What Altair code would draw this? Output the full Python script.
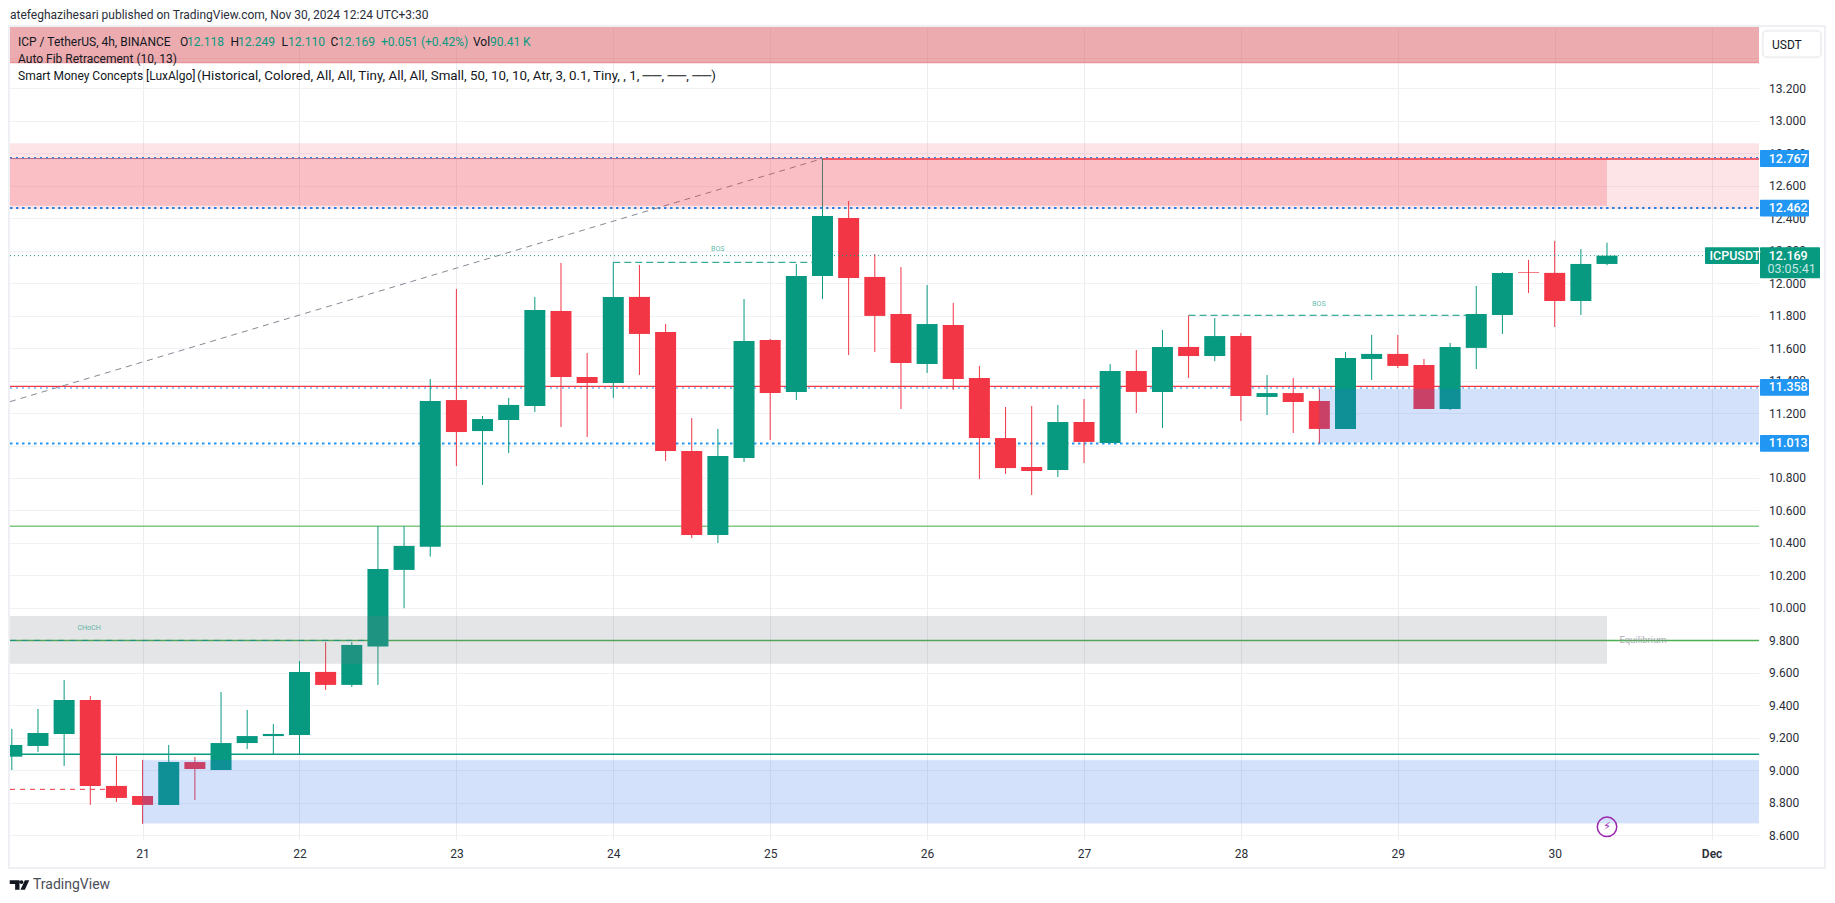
import altair as alt
import pandas as pd

# candles: time in days of Nov 2024 (day + index / 6), prices in USDT
bar_index = list(range(-5, 57))
opens = [9.084, 9.150, 9.224, 9.433, 8.904, 8.842, 8.787, 9.051, 9.002, 9.168, 9.211, 9.218, 9.606, 9.526, 9.762, 10.234,
         10.377, 11.280, 11.089, 11.157, 11.243, 11.828, 11.422, 11.385, 11.915, 11.699, 10.966, 10.449, 10.923, 11.650,
         11.330, 12.044, 12.401, 12.038, 11.810, 11.502, 11.742, 11.416, 11.046, 10.868, 10.849, 11.145, 11.016, 11.459,
         11.330, 11.607, 11.551, 11.674, 11.299, 11.323, 11.274, 11.102, 11.533, 11.564, 11.496, 11.225, 11.601, 11.804,
         12.067, 12.063, 11.890, 12.118]
highs = [9.255, 9.378, 9.556, 9.458, 9.088, 9.064, 9.156, 9.082, 9.482, 9.372, 9.285, 9.673, 9.790, 9.790, 10.503, 10.503,
         11.410, 11.964, 11.182, 11.293, 11.915, 12.124, 11.570, 12.128, 12.112, 11.748, 11.169, 11.102, 11.902, 11.656,
         12.118, 12.767, 12.506, 12.179, 12.099, 11.988, 11.878, 11.490, 11.237, 11.243, 11.250, 11.286, 11.502, 11.588,
         11.711, 11.802, 11.785, 11.693, 11.434, 11.416, 11.348, 11.576, 11.681, 11.681, 11.533, 11.632, 11.983, 12.069,
         12.143, 12.260, 12.210, 12.249]
lows = [9.002, 9.113, 9.027, 8.787, 8.805, 8.670, 8.787, 8.817, 9.002, 9.131, 9.099, 9.099, 9.495, 9.513, 9.526, 9.998,
        10.316, 10.874, 10.757, 10.954, 11.206, 11.114, 11.052, 11.293, 11.434, 10.905, 10.430, 10.400, 10.899, 11.034,
        11.280, 11.902, 11.557, 11.576, 11.225, 11.447, 11.342, 10.794, 10.825, 10.695, 10.806, 10.892, 11.016, 11.200,
        11.108, 11.416, 11.520, 11.151, 11.188, 11.077, 11.013, 11.102, 11.404, 11.478, 11.225, 11.219, 11.471, 11.687,
        11.939, 11.730, 11.804, 12.110]
closes = [9.156, 9.230, 9.433, 8.904, 8.830, 8.787, 9.051, 9.008, 9.168, 9.211, 9.224, 9.606, 9.526, 9.772, 10.240, 10.382,
          11.274, 11.083, 11.163, 11.250, 11.835, 11.422, 11.385, 11.915, 11.687, 10.966, 10.449, 10.935, 11.644, 11.323,
          12.044, 12.413, 12.032, 11.798, 11.508, 11.748, 11.410, 11.046, 10.861, 10.843, 11.145, 11.022, 11.459, 11.330,
          11.607, 11.551, 11.674, 11.305, 11.323, 11.268, 11.102, 11.539, 11.564, 11.490, 11.225, 11.607, 11.810, 12.063,
          12.063, 11.890, 12.118, 12.169]

x_domain = [20.155, 31.302]
y_domain = [8.571, 13.577]
price_ticks = [8.6, 8.8, 9.0, 9.2, 9.4, 9.6, 9.8, 10.0, 10.2, 10.4, 10.6, 10.8, 11.0, 11.2, 11.4, 11.6, 11.8, 12.0, 12.2, 12.4, 12.6, 12.8, 13.0, 13.2]
day_ticks = [21, 22, 23, 24, 25, 26, 27, 28, 29, 30, 31]

end_time = 21 + 56 / 6
ob_low_start = 21.0
ob_high_start = 21 + 45 / 6
peak_time = 21 + 26 / 6
bos1_start, bos1_end = 21 + 18 / 6, 21 + 26 / 6
bos2_start, bos2_end = 21 + 40 / 6, 21 + 51 / 6
choch_end = 21 + 9 / 6
swing_end = 21 - 1 / 6

xs = alt.Scale(domain=x_domain, nice=False, zero=False, padding=0)
ys = alt.Scale(domain=y_domain, nice=False, zero=False, padding=0)
FONT = "Roboto"
GREEN, RED, BLUE, TEAL = "#089981", "#f23645", "#2196f3", "#089981"
OB = "#2b6fee"

x_axis = alt.Axis(
    orient="bottom", values=day_ticks, grid=True, gridColor="#eceDf1", gridWidth=1, ticks=False, domain=False,
    labelFont=FONT, labelFontSize=12, labelColor="#2a2e39", labelPadding=8,
    labelExpr="datum.value == 31 ? 'Dec' : datum.value", labelOverlap=False, labelFlush=False,
    labelFontWeight=alt.expr("datum.value == 31 ? 600 : 400"))
y_axis = alt.Axis(
    orient="right", values=price_ticks, format=".3f", grid=True, gridColor="#f0f1f5", gridWidth=1,
    ticks=False, domain=False, labelFont=FONT, labelFontSize=12, labelColor="#2a2e39", labelPadding=9.5,
    labelAlign="left", labelOverlap=False, labelFlush=False)
X = alt.X("x:Q", scale=xs, axis=x_axis, title=None)
Y = alt.Y("y:Q", scale=ys, axis=y_axis, title=None)


def zone(x0, x1, y0, y1, color, opacity, **kw):
    d = pd.DataFrame({"x": [x0], "x2": [x1], "y": [y0], "y2": [y1]})
    return alt.Chart(d).mark_rect(color=color, opacity=opacity, clip=True, **kw).encode(x=X, x2="x2:Q", y=Y, y2="y2:Q")


def level(p, x0, x1, color, width=1.0, dash=None, opacity=1.0):
    d = pd.DataFrame({"x": [x0], "x2": [x1], "y": [p]})
    kw = {"strokeDash": dash} if dash else {}
    return alt.Chart(d).mark_rule(color=color, strokeWidth=width, opacity=opacity, clip=True, **kw).encode(x=X, x2="x2:Q", y=Y)


def ptext(text, px, py, color="#131722", size=12, **kw):
    d = pd.DataFrame({"t": [text]})
    opts = dict(align="left", baseline="middle", font=FONT, fontSize=size, color=color)
    opts.update(kw)
    return alt.Chart(d).mark_text(**opts).encode(x=alt.value(px), y=alt.value(py), text="t:N")


def dtext(text, t, p, color, size, opacity=1.0, font=FONT, **kw):
    d = pd.DataFrame({"t": [text], "x": [t], "y": [p]})
    return alt.Chart(d).mark_text(align="center", baseline="middle", font=font, fontSize=size, color=color,
                                  opacity=opacity, **kw).encode(x=X, y=Y, text="t:N")


def tag(p_top, p_bottom, x0, x1, color):
    d = pd.DataFrame({"y": [p_top], "y2": [p_bottom]})
    return alt.Chart(d).mark_rect(color=color, cornerRadius=1).encode(x=alt.value(x0), x2=alt.value(x1), y=Y, y2="y2:Q")


def vtext(text, p, px, color, size=12.5, **kw):
    d = pd.DataFrame({"t": [text], "y": [p]})
    return alt.Chart(d).mark_text(align="left", baseline="middle", font=FONT, fontSize=size, color=color, **kw).encode(
        x=alt.value(px), y=Y, text="t:N")


candles = pd.DataFrame({"i": bar_index, "o": opens, "h": highs, "l": lows, "c": closes})
candles["x"] = 21 + candles["i"] / 6
candles["up"] = candles["c"] >= candles["o"]
col = alt.Color("up:N", scale=alt.Scale(domain=[True, False], range=[GREEN, RED]), legend=None)

wicks = alt.Chart(candles).mark_rule(strokeWidth=1, clip=True).encode(
    x=X, y=alt.Y("h:Q", scale=ys, axis=y_axis, title=None), y2="l:Q", color=col)
bodies = alt.Chart(candles).mark_bar(size=21, orient="vertical", clip=True).encode(
    x=X, y=alt.Y("o:Q", scale=ys, axis=y_axis, title=None), y2="c:Q", color=col)

L, R = x_domain

trend = alt.Chart(pd.DataFrame({"x": [L, peak_time], "y": [11.27, 12.767]})).mark_line(
    color="#868993", strokeWidth=1, strokeDash=[6, 5], clip=True).encode(x=X, y=Y)

frame = alt.Chart(pd.DataFrame({"a": [0]})).mark_rect(fill="transparent", stroke="#eff0f3", strokeWidth=2).encode(
    x=alt.value(-1), x2=alt.value(1815), y=alt.value(-1), y2=alt.value(841))
usdt_box = alt.Chart(pd.DataFrame({"a": [0]})).mark_rect(fill="white", stroke="#eff0f3", strokeWidth=2, cornerRadius=4).encode(
    x=alt.value(1752.7), x2=alt.value(1811), y=alt.value(3.7), y2=alt.value(30.3))

bolt = alt.Chart(pd.DataFrame({"x": [end_time], "y": [8.652]})).mark_point(
    shape="circle", size=380, filled=False, color="#9c27b0", strokeWidth=1.5, opacity=1).encode(x=X, y=Y)
bolt_glyph = dtext("⚡", end_time, 8.652, "#9c27b0", 11, font="DejaVu Sans")

logo_path = "M-1 -0.5H0V0.5H-0.45V-0.1H-1Z M0.55 -0.5H1L0.55 0.5H0.1Z M0 -0.3A0.2 0.2 0 1 0 0.4 -0.3A0.2 0.2 0 1 0 0 -0.3Z"
logo = alt.Chart(pd.DataFrame({"a": [0]})).mark_point(shape=logo_path, size=380, filled=True, color="#131722", opacity=1).encode(
    x=alt.value(9.5), y=alt.value(858))

layers = [
    # top band
    zone(L, R, 13.358, 13.7, "#d9595f", 0.5),
    level(13.358, L, R, "#e8949a", 1.5),
    level(13.382, L, R, "#e8a0a5", 1),
    # lines under the candles
    level(10.503, L, R, "#81c784", 1.5),
    level(9.80, L, R, "#4caf50", 1.5),
    level(9.80, L, choch_end, TEAL, 1, [6, 6]),
    level(9.099, L, R, TEAL, 1.5),
    level(8.883, L, swing_end, RED, 1, [5, 5]),
    level(12.767, L, peak_time, "#9b7fa6", 1),
    level(12.764, peak_time, R, RED, 1.5),
    level(11.354, L, R, BLUE, 1, [2, 4]),
    level(11.364, L, R, RED, 1.2),
    level(11.013, L, R, BLUE, 2, [2.5, 3.5]),
    level(12.128, bos1_start, bos1_end, TEAL, 1, [7, 4]),
    level(11.802, bos2_start, bos2_end, TEAL, 1, [7, 4]),
    trend,
    wicks, bodies,
    # zones over the candles
    zone(L, R, 12.455, 12.861, RED, 0.13),
    zone(L, end_time, 12.477, 12.769, RED, 0.21),
    zone(L, end_time, 9.657, 9.950, "#787b86", 0.2),
    zone(ob_low_start, R, 8.674, 9.062, OB, 0.2, stroke=OB, strokeOpacity=0.25, strokeWidth=1),
    zone(ob_high_start, R, 11.018, 11.348, OB, 0.2, stroke=OB, strokeOpacity=0.25, strokeWidth=1),
    level(12.773, L, R, "#2f80e0", 1.2, [2, 4]),
    level(12.462, L, R, "#2f80e0", 2, [2.5, 3.5]),
    level(12.169, L, 21 + (1703 - 142.5) / 156.9, TEAL, 1, [1, 3]),
    dtext("BOS", 24.666, 12.21, TEAL, 7, 0.65),
    dtext("BOS", 28.497, 11.874, TEAL, 7, 0.65),
    dtext("CHoCH", 20.659, 9.877, TEAL, 7, 0.65),
    dtext("Equilibrium", 30.563, 9.80, "#9598a1", 9.5, 0.8),
    frame, usdt_box,
    ptext("USDT", 1762, 17.5, "#131722", 12),
    bolt, bolt_glyph,
    # price tags
    tag(12.819, 12.715, 1750, 1799, BLUE),
    tag(12.514, 12.410, 1750, 1799, BLUE),
    tag(11.410, 11.306, 1750, 1799, BLUE),
    tag(11.065, 10.961, 1750, 1799, BLUE),
    tag(12.221, 12.117, 1695, 1749, TEAL),
    tag(12.221, 12.030, 1750, 1810, TEAL),
    vtext("12.767", 12.767, 1758.7, "white", fontWeight=500),
    vtext("12.462", 12.462, 1758.7, "white", fontWeight=500),
    vtext("11.358", 11.358, 1758.7, "white", fontWeight=500),
    vtext("11.013", 11.013, 1758.7, "white", fontWeight=500),
    vtext("ICPUSDT", 12.169, 1699.5, "white", fontWeight=500),
    vtext("12.169", 12.169, 1758.7, "white", fontWeight=500),
    vtext("03:05:41", 12.084, 1757.5, "#c4e8e1"),
    # header, legend, footer
    ptext("atefeghazihesari published on TradingView.com, Nov 30, 2024 12:24 UTC+3:30", 0, -12, "#2a2e39", 12),
    ptext("ICP / TetherUS, 4h, BINANCE", 8, 14.7),
    ptext("O", 170, 14.7), ptext("12.118", 177, 14.7, GREEN),
    ptext("H", 220.6, 14.7), ptext("12.249", 228, 14.7, GREEN),
    ptext("L", 271.6, 14.7), ptext("12.110", 278, 14.7, GREEN),
    ptext("C", 320.6, 14.7), ptext("12.169", 328, 14.7, GREEN),
    ptext("+0.051 (+0.42%)", 371, 14.7, GREEN),
    ptext("Vol", 463, 14.7), ptext("90.41 K", 480, 14.7, GREEN),
    ptext("Auto Fib Retracement (10, 13)", 8, 31.7),
    ptext("Smart Money Concepts [LuxAlgo]", 8, 49),
    ptext("(Historical, Colored, All, All, Tiny, All, All, Small, 50, 10, 10, Atr, 3, 0.1, Tiny, , 1, ──, ──, ──)", 187, 49, size=13.35),
    logo,
    ptext("TradingView", 23, 858, "#4a4e59", 14),
]

chart = alt.layer(*layers).properties(
    width=1749, height=813,
    background="white",
    autosize=alt.AutoSizeParams(type="none"),
    padding={"left": 2, "top": 19, "right": 68, "bottom": 53},
).configure_view(stroke=None)

chart.save("out.html", embed_options={"renderer": "svg", "actions": False})
